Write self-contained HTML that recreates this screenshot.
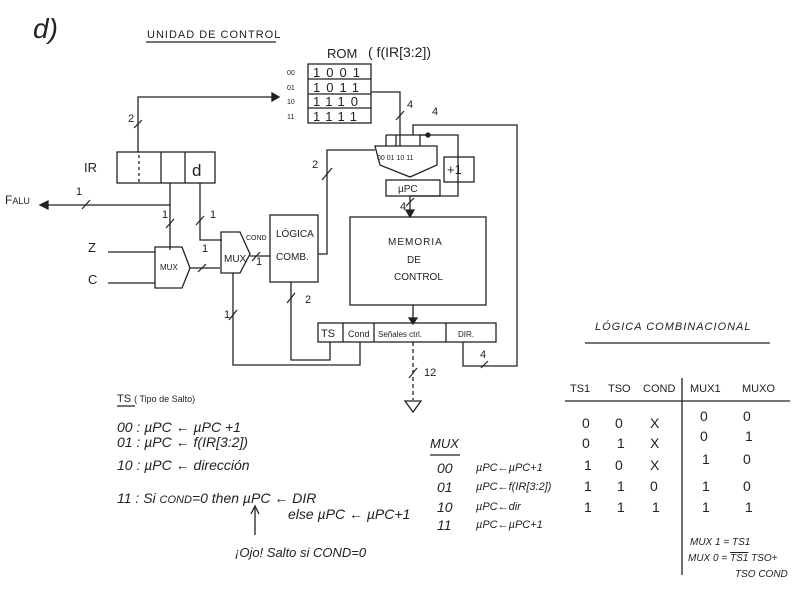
<!DOCTYPE html>
<html><head><meta charset="utf-8"><style>
body{margin:0;background:#fff;}
svg{display:block;font-family:"Liberation Sans",sans-serif;}
text{fill:#222;}
</style></head><body>
<svg width="800" height="590" viewBox="0 0 800 590" xmlns="http://www.w3.org/2000/svg" stroke="#222" stroke-width="1.3" fill="none">
<g stroke="none">
<text x="33" y="38" font-size="28" font-style="italic">d)</text>
<text x="147" y="38" font-size="11" letter-spacing="1">UNIDAD DE CONTROL</text>
<text x="327" y="58" font-size="13">ROM</text>
<text x="368" y="57" font-size="14">( f(IR[3:2])</text>
<g font-size="7"><text x="287" y="75">00</text><text x="287" y="90">01</text><text x="287" y="104">10</text><text x="287" y="119">11</text></g>
<g font-size="13"><text x="313" y="77" letter-spacing="6">1001</text><text x="313" y="92" letter-spacing="6">1011</text><text x="313" y="106" letter-spacing="6">1110</text><text x="313" y="121" letter-spacing="6">1111</text></g>
<text x="84" y="172" font-size="13">IR</text>
<text x="192" y="176" font-size="17">d</text>
<text x="5" y="204" font-size="12">F<tspan font-size="9">ALU</tspan></text>
<text x="88" y="252" font-size="13">Z</text><text x="88" y="284" font-size="13">C</text>
<text x="160" y="270" font-size="8">MUX</text>
<text x="224" y="262" font-size="10">MUX</text>
<text x="276" y="237" font-size="10">LÓGICA</text><text x="276" y="260" font-size="10">COMB.</text>
<text x="246" y="240" font-size="7">COND</text>
<text x="388" y="245" font-size="10" letter-spacing="1">MEMORIA</text>
<text x="407" y="263" font-size="10">DE</text>
<text x="394" y="280" font-size="10">CONTROL</text>
<text x="377" y="160" font-size="7">00 01 10 11</text>
<text x="447" y="174" font-size="13">+1</text>
<text x="398" y="192" font-size="10">µPC</text>
<text x="321" y="337" font-size="11">TS</text>
<text x="348" y="337" font-size="9">Cond</text>
<text x="378" y="337" font-size="8">Señales ctrl.</text>
<text x="458" y="337" font-size="8">DIR.</text>
<g font-size="11"><text x="128" y="122">2</text><text x="76" y="195">1</text><text x="162" y="218">1</text><text x="210" y="218">1</text><text x="202" y="252">1</text><text x="256" y="265">1</text><text x="312" y="168">2</text><text x="305" y="303">2</text><text x="224" y="318">1</text><text x="407" y="108">4</text><text x="432" y="115">4</text><text x="400" y="210">4</text><text x="480" y="358">4</text><text x="424" y="376">12</text></g>
<text x="117" y="402" font-size="11">TS <tspan font-size="9">( Tipo de Salto)</tspan></text>
<g font-size="14" font-style="italic">
<text x="117" y="432">00 : µPC ← µPC +1</text>
<text x="117" y="447">01 : µPC ← f(IR[3:2])</text>
<text x="117" y="470">10 : µPC ← dirección</text>
<text x="117" y="503">11 : Si <tspan font-size="11">COND</tspan>=0 then µPC ← DIR</text>
<text x="288" y="519">else µPC ← µPC+1</text>
</g>
<text x="235" y="557" font-size="13" font-style="italic">¡Ojo! Salto si COND=0</text>
<text x="430" y="448" font-size="13" font-style="italic">MUX</text>
<g font-size="14" font-style="italic"><text x="437" y="473">00</text><text x="437" y="492">01</text><text x="437" y="512">10</text><text x="437" y="530">11</text></g>
<g font-size="11" font-style="italic"><text x="476" y="471">µPC←µPC+1</text><text x="476" y="490">µPC←f(IR[3:2])</text><text x="476" y="510">µPC←dir</text><text x="476" y="528">µPC←µPC+1</text></g>
<text x="595" y="330" font-size="11" font-style="italic" letter-spacing="1">LÓGICA COMBINACIONAL</text>
<g font-size="11"><text x="570" y="392">TS1</text><text x="608" y="392">TSO</text><text x="643" y="392">COND</text><text x="690" y="392">MUX1</text><text x="742" y="392">MUXO</text></g>
<g font-size="14"><text x="582" y="428">0</text><text x="615" y="428">0</text><text x="650" y="428">X</text><text x="700" y="421">0</text><text x="743" y="421">0</text>
<text x="582" y="448">0</text><text x="617" y="448">1</text><text x="650" y="448">X</text><text x="700" y="441">0</text><text x="745" y="441">1</text>
<text x="584" y="470">1</text><text x="615" y="470">0</text><text x="650" y="470">X</text><text x="702" y="464">1</text><text x="743" y="464">0</text>
<text x="584" y="491">1</text><text x="617" y="491">1</text><text x="650" y="491">0</text><text x="702" y="491">1</text><text x="743" y="491">0</text>
<text x="584" y="512">1</text><text x="617" y="512">1</text><text x="652" y="512">1</text><text x="702" y="512">1</text><text x="745" y="512">1</text></g>
<g font-size="10" font-style="italic"><text x="690" y="545">MUX 1 = TS1</text><text x="688" y="561">MUX 0 = <tspan text-decoration="overline">TS1</tspan> TSO+</text><text x="735" y="577">TSO COND</text></g>
</g>
<line x1="146" y1="42" x2="276" y2="42"/>
<line x1="117" y1="406" x2="135" y2="406"/>
<line x1="430" y1="455" x2="460" y2="455"/>
<line x1="585" y1="343" x2="770" y2="343"/>
<line x1="565" y1="401" x2="790" y2="401"/>
<line x1="682" y1="378" x2="682" y2="575"/>
<rect x="308" y="64" width="63" height="59"/>
<line x1="308" y1="79" x2="371" y2="79"/><line x1="308" y1="94" x2="371" y2="94"/><line x1="308" y1="108" x2="371" y2="108"/>
<rect x="117" y="152" width="98" height="31"/>
<line x1="161" y1="152" x2="161" y2="183"/><line x1="185" y1="152" x2="185" y2="183"/>
<line x1="139" y1="155" x2="139" y2="183" stroke-dasharray="3,3"/>
<polyline points="138,152 138,97 272,97"/>
<polygon points="272,93 279,97 272,101" fill="#222"/>
<line x1="47" y1="205" x2="170" y2="205"/>
<polygon points="40,205 48,201 48,209" fill="#222"/>
<line x1="170" y1="183" x2="170" y2="250"/>
<polyline points="200,183 200,240 222,240"/>
<line x1="108" y1="252" x2="155" y2="252"/><line x1="108" y1="283" x2="155" y2="283"/>
<polygon points="155,247 182,247 190,268 182,288 155,288"/>
<line x1="190" y1="268" x2="220" y2="268"/>
<polygon points="221,232 240,232 250,254 240,273 221,273"/>
<line x1="250" y1="256" x2="270" y2="256"/>
<rect x="270" y="215" width="48" height="67"/>
<polyline points="318,254 327,254 327,150 375,150"/>
<polygon points="375,146 437,146 437,165 410,177 380,165"/>
<rect x="444" y="157" width="30" height="25"/>
<rect x="386" y="180" width="54" height="16"/>
<polyline points="371,92 400,92 400,146"/>
<polyline points="410,196 458,196 458,135 420,135 420,146"/>
<line x1="386" y1="135" x2="430" y2="135"/><line x1="386" y1="135" x2="386" y2="146"/><line x1="396" y1="135" x2="396" y2="146"/>
<circle cx="428" cy="135" r="2" fill="#222"/>
<polyline points="413,135 413,125 517,125 517,366 463,366 463,342"/>
<line x1="410" y1="196" x2="410" y2="215"/>
<polygon points="406,210 414,210 410,217" fill="#222"/>
<rect x="350" y="217" width="136" height="88"/>
<line x1="413" y1="305" x2="413" y2="323"/>
<polygon points="409,318 417,318 413,324" fill="#222"/>
<rect x="318" y="323" width="178" height="19"/>
<line x1="343" y1="323" x2="343" y2="342"/><line x1="374" y1="323" x2="374" y2="342"/><line x1="446" y1="323" x2="446" y2="342"/>
<polyline points="291,282 291,360 330,360 330,342"/>
<polyline points="233,273 233,365 360,365 360,342"/>
<line x1="413" y1="342" x2="413" y2="400" stroke-dasharray="4,3"/>
<polygon points="405,401 421,401 413,412"/>
<g stroke-width="1.2">
<line x1="134" y1="128" x2="142" y2="120"/><line x1="82" y1="209" x2="90" y2="200"/><line x1="166" y1="228" x2="174" y2="219"/><line x1="196" y1="225" x2="204" y2="216"/><line x1="198" y1="272" x2="206" y2="264"/><line x1="252" y1="261" x2="260" y2="252"/><line x1="322" y1="180" x2="332" y2="168"/><line x1="287" y1="303" x2="295" y2="293"/><line x1="229" y1="320" x2="237" y2="310"/><line x1="396" y1="120" x2="404" y2="111"/><line x1="406" y1="206" x2="414" y2="198"/><line x1="481" y1="368" x2="488" y2="361"/><line x1="409" y1="378" x2="417" y2="368"/>
</g>
<line x1="255" y1="535" x2="255" y2="508"/>
<polyline points="251,514 255,506 259,514"/>
</svg>
</body></html>
